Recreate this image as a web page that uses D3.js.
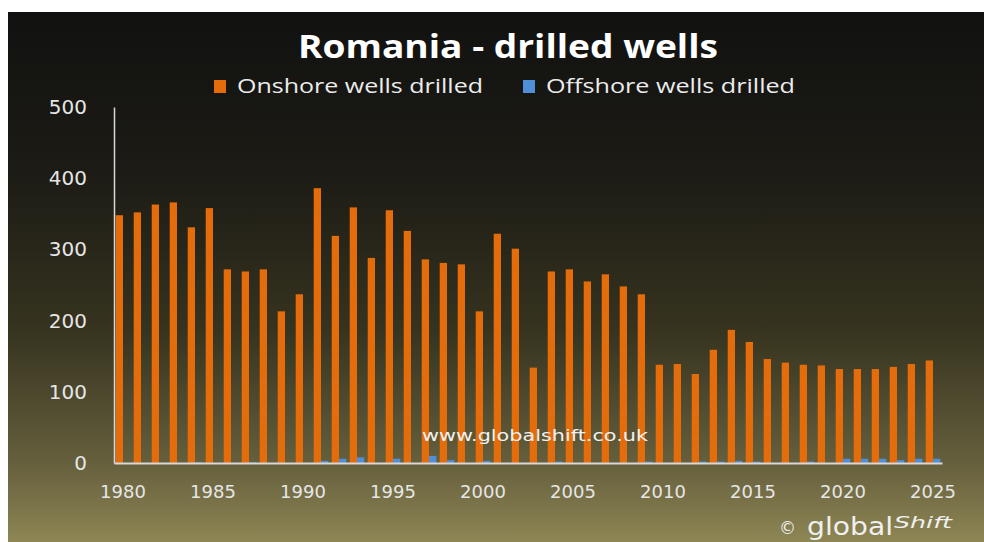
<!DOCTYPE html>
<html>
<head>
<meta charset="utf-8">
<script src="https://cdn.jsdelivr.net/npm/d3@7"></script>
<style>
  html, body { margin: 0; padding: 0; background: #fff; }
  svg { display: block; }
</style>
</head>
<body>
<script>
const WIDTH = 984;
const HEIGHT = 542;

var years = d3.range(1980, 2026);
var onshore = [348, 352, 363, 366, 331, 358, 272, 269, 272, 213,
               237, 386, 319, 359, 288, 355, 326, 286, 281, 279,
               213, 322, 301, 134, 269, 272, 255, 265, 248, 237,
               138, 139, 125, 159, 187, 170, 146, 141, 138, 137,
               132, 132, 132, 135, 139, 144];
var offshore = [0, 0, 0, 0, 1, 0, 0, 1, 0, 0,
                0, 3, 6, 8, 0, 6, 0, 10, 4, 0,
                3, 0, 0, 0, 2, 0, 0, 0, 0, 2,
                0, 0, 2, 2, 3, 2, 0, 0, 2, 0,
                6, 6, 6, 4, 6, 6];
var seriesNames = ['Onshore wells drilled', 'Offshore wells drilled'];
var seriesColors = ['#e46c0a', '#4f8fd8'];
var yTicks = [0, 100, 200, 300, 400, 500];
var xTicks = [1980, 1985, 1990, 1995, 2000, 2005, 2010, 2015, 2020, 2025];

var svg = d3.select('body').append('svg')
    .attr('width', WIDTH)
    .attr('height', HEIGHT);

// background panel
var grad = svg.append('defs').append('linearGradient')
    .attr('id', 'bg')
    .attr('x1', 0).attr('y1', 0).attr('x2', 0).attr('y2', 1);
[[0, '#111110'], [0.3, '#1c1b15'], [0.6, '#36331f'], [0.85, '#655f3d'], [1, '#8e8654']]
    .forEach(function (s) {
        grad.append('stop').attr('offset', s[0]).attr('stop-color', s[1]);
    });

svg.append('rect')
    .attr('x', 8).attr('y', 12)
    .attr('width', WIDTH - 8).attr('height', HEIGHT - 12)
    .attr('fill', 'url(#bg)');

var x0 = d3.scaleBand()
    .domain(years)
    .range([114, 942])
    .paddingInner(0.19)
    .paddingOuter(0.095);
var x1 = d3.scaleBand()
    .domain([0, 1])
    .range([0, x0.bandwidth()]);
var y = d3.scaleLinear()
    .domain([0, 500])
    .range([463, 107]);

var rows = years.map(function (yr, i) {
    return { year: yr, values: [onshore[i], offshore[i]] };
});

var groups = svg.append('g').selectAll('g')
    .data(rows)
    .enter().append('g')
    .attr('transform', function (d) { return 'translate(' + x0(d.year) + ',0)'; });

groups.selectAll('rect')
    .data(function (d) { return d.values.map(function (v, k) { return { k: k, v: v }; }); })
    .enter().append('rect')
    .attr('x', function (d) { return x1(d.k); })
    .attr('width', x1.bandwidth())
    .attr('y', function (d) { return y(d.v); })
    .attr('height', function (d) { return y(0) - y(d.v); })
    .attr('fill', function (d) { return seriesColors[d.k]; });

// axes
var yAxis = svg.append('g')
    .attr('transform', 'translate(114,0)')
    .call(d3.axisLeft(y).tickValues(yTicks).tickSize(0).tickPadding(27));
yAxis.select('.domain').attr('stroke', '#d8d8d8').attr('stroke-width', 1.5);
yAxis.selectAll('text')
    .attr('fill', '#e6e6e6')
    .style('font-family', 'DejaVu Sans')
    .style('font-size', '20px');

var xAxis = svg.append('g')
    .attr('transform', 'translate(0,463)')
    .call(d3.axisBottom(x0).tickValues(xTicks).tickSize(0).tickPadding(22));
xAxis.select('.domain').attr('stroke', '#d8d8d8').attr('stroke-width', 2);
xAxis.selectAll('text')
    .attr('fill', '#e6e6e6')
    .style('font-family', 'DejaVu Sans')
    .style('font-size', '18px');

// title
svg.append('text')
    .attr('x', 508).attr('y', 58)
    .attr('text-anchor', 'middle')
    .attr('textLength', 420)
    .attr('lengthAdjust', 'spacingAndGlyphs')
    .attr('fill', '#ffffff')
    .style('font-family', 'Open Sans')
    .style('font-weight', 'bold')
    .style('font-size', '33px')
    .text('Romania - drilled wells');

// legend
var legendX = [214, 523];
var legendW = [246, 249];
var legend = svg.append('g').selectAll('g')
    .data(seriesNames)
    .enter().append('g')
    .attr('transform', function (d, i) { return 'translate(' + legendX[i] + ',80)'; });
legend.append('rect')
    .attr('width', 12).attr('height', 13)
    .attr('fill', function (d, i) { return seriesColors[i]; });
legend.append('text')
    .attr('x', 23).attr('y', 13)
    .attr('textLength', function (d, i) { return legendW[i]; })
    .attr('lengthAdjust', 'spacingAndGlyphs')
    .attr('fill', '#ececec')
    .style('font-family', 'Open Sans')
    .style('font-size', '20px')
    .text(function (d) { return d; });

// watermark
svg.append('text')
    .attr('x', 422).attr('y', 441)
    .attr('textLength', 226)
    .attr('lengthAdjust', 'spacingAndGlyphs')
    .attr('fill', '#f2f2f2')
    .style('font-family', 'DejaVu Sans')
    .style('font-size', '16px')
    .text('www.globalshift.co.uk');

// logo
var logo = svg.append('g').attr('fill', '#f0f0f0');
logo.append('text')
    .attr('x', 779).attr('y', 534)
    .style('font-family', 'DejaVu Sans')
    .style('font-size', '17px')
    .text('\u00a9');
logo.append('text')
    .attr('x', 807).attr('y', 535)
    .attr('textLength', 86)
    .attr('lengthAdjust', 'spacingAndGlyphs')
    .style('font-family', 'DejaVu Sans')
    .style('font-size', '24px')
    .text('global');
logo.append('text')
    .attr('x', 894).attr('y', 528)
    .attr('textLength', 58)
    .attr('lengthAdjust', 'spacingAndGlyphs')
    .style('font-family', 'DejaVu Sans')
    .style('font-style', 'italic')
    .style('font-size', '16px')
    .text('Shift');
</script>
</body>
</html>
